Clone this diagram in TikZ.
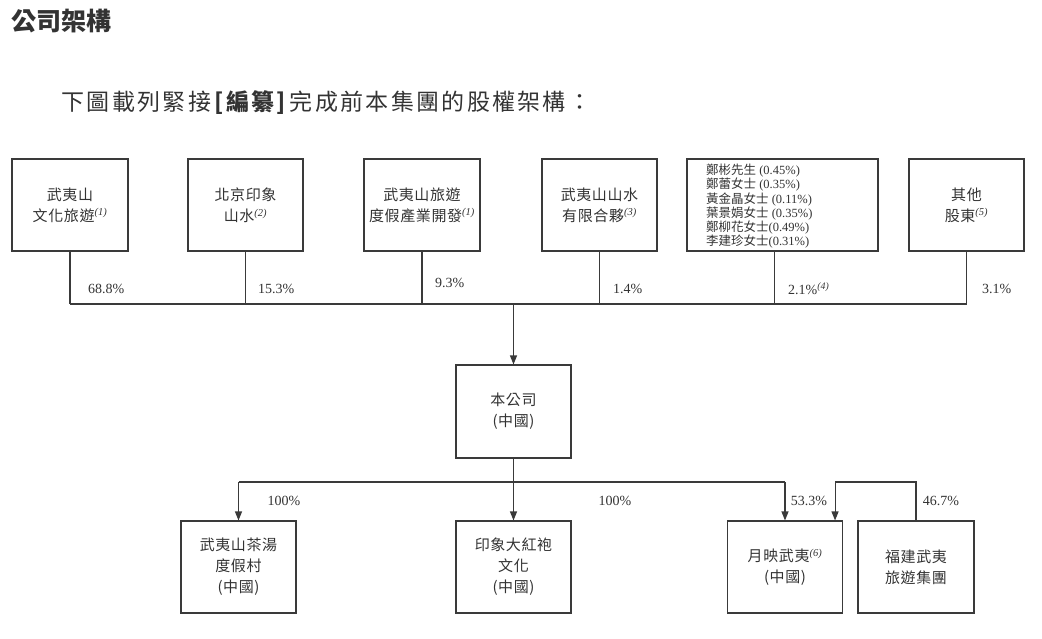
\documentclass[tikz,border=0pt]{standalone}
\usepackage{fontspec}
\setmainfont{Liberation Serif}
\newfontfamily\zhfont{Noto Sans CJK TC}
\usepackage{tikz}
\usetikzlibrary{arrows.meta, positioning, calc}
\usepackage{xcolor}
\definecolor{ink}{RGB}{51,51,51}
\definecolor{rule}{RGB}{58,58,58}
\newcommand{\fn}[1]{\textsuperscript{\rmfamily\itshape(#1)}}
\newcommand{\zh}[1]{{\zhfont #1}}

\begin{document}
\begin{tikzpicture}[x=1pt, y=-1pt, text=ink,
    box/.style={draw=rule, line width=1.1pt, minimum width=115pt, minimum height=92pt,
      inner sep=0pt, align=center, font=\zhfont\addfontfeatures{LetterSpace=4}\fontsize{15}{21}\selectfont},
    pct/.style={font=\fontsize{14}{16}\selectfont, inner sep=0pt},
    link/.style={draw=rule, line width=1.1pt},
    arr/.style={link, -{Triangle[length=9pt, width=7pt]}}]
  \useasboundingbox (0,0) rectangle (1042,638);

  % headings
  \node[font=\zhfont\bfseries\fontsize{25}{28}\selectfont, anchor=west] (title) at (8,21) {公司架構};
  \node[font=\zhfont\addfontfeatures{LetterSpace=10}\fontsize{23}{26}\selectfont, anchor=west] (intro) at (58,103)
    {下圖載列緊接\,{\bfseries[編纂]}\,完成前本集團的股權架構：};

  % shareholders
  \node[box, minimum width=116pt] (s1) at (70,205) {武夷山\\文化旅遊\fn{1}};
  \node[box] (s2) at (245.5,205) {北京印象\\山水\fn{2}};
  \node[box, minimum width=116pt] (s3) at (422,205) {武夷山旅遊\\度假產業開發\fn{1}};
  \node[box] (s4) at (599.5,205) {武夷山山水\\有限合夥\fn{3}};
  \node[box, minimum width=191pt] (s5) at (782.5,205) {};
  \node[align=left, anchor=north west, inner sep=0pt, font=\fontsize{12.5}{14.2}\selectfont] (s5txt) at (706,164)
    {\zh{鄭彬先生} (0.45\%)\\\zh{鄭蕾女士} (0.35\%)\\\zh{黃金晶女士} (0.11\%)\\
     \zh{葉景娟女士} (0.35\%)\\\zh{鄭柳花女士}(0.49\%)\\\zh{李建珍女士}(0.31\%)};
  \node[box] (s6) at (966.5,205) {其他\\股東\fn{5}};

  % company
  \node[box, minimum height=93pt] (co) at (513.5,411.5) {本公司\\(中國)};

  % subsidiaries
  \node[box] (c1) at (238.5,567) {武夷山茶湯\\度假村\\(中國)};
  \node[box] (c2) at (513.5,567) {印象大紅袍\\文化\\(中國)};
  \node[box] (c3) at (785,567) {月映武夷\fn{6}\\(中國)};
  \node[box, minimum width=116pt] (c4) at (916,567) {福建武夷\\旅遊集團};

  \coordinate (bus) at (0,304);
  \coordinate (bus2) at (0,482);
  \coordinate (s5out) at ([xshift=-8pt]s5.south);

  % upper connectors
  \foreach \s in {s1.south,s2.south,s3.south,s4.south,s5out,s6.south}
    \draw[link] (\s) -- (\s |- bus);
  \draw[link] (s1.south |- bus) -- (s6.south |- bus);
  \draw[arr] (co.north |- bus) -- (co.north);

  \node[pct, anchor=west] (p1) at (88,289) {68.8\%};
  \node[pct, anchor=west] (p2) at (258,289) {15.3\%};
  \node[pct, anchor=west] (p3) at (435,283) {9.3\%};
  \node[pct, anchor=west] (p4) at (613,289) {1.4\%};
  \node[pct, anchor=west] (p5) at (788,289) {2.1\%\fn{4}};
  \node[pct, anchor=west] (p6) at (982,289) {3.1\%};

  % lower connectors
  \draw[link] (co.south) -- (co.south |- bus2);
  \draw[link] (c1.north |- bus2) -- (c3.north |- bus2);
  \draw[arr] (c1.north |- bus2) -- (c1.north);
  \draw[arr] (c2.north |- bus2) -- (c2.north);
  \draw[arr] (c3.north |- bus2) -- (c3.north);
  \draw[arr] (c4.north) -- (c4.north |- bus2) -| ([xshift=-8pt]c3.north east);

  \node[pct] (q1) at (284,501) {100\%};
  \node[pct] (q2) at (615,501) {100\%};
  \node[pct] (q3) at (809,501) {53.3\%};
  \node[pct] (q4) at (941,501) {46.7\%};
\end{tikzpicture}
\end{document}
